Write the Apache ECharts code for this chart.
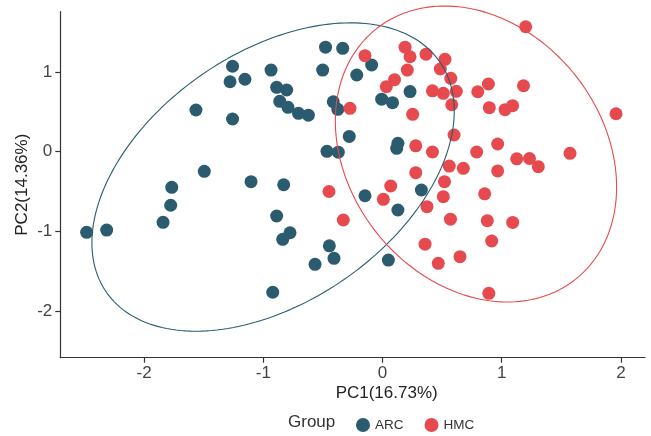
<!DOCTYPE html>
<html>
<head>
<meta charset="utf-8">
<script src="https://cdn.jsdelivr.net/npm/echarts@6/dist/echarts.min.js"></script>
<style>
html,body{margin:0;padding:0;background:#fff;}
#chart{width:651px;height:436px;}
</style>
</head>
<body>
<div id="chart"></div>
<script>
const groups = ['ARC', 'HMC'];
const arcX = [-2.482,-2.314,-1.841,-1.777,-1.768,-1.495,-1.103,-0.829,-1.565,-1.258,-1.258,-1.279,-1.154,-0.935,-0.888,-0.804,-0.862,-0.793,-0.705,-0.622,-0.502,-0.478,-0.334,-0.413,-0.375,-0.216,-0.091,-0.007,0.084,-0.279,-0.466,-0.371,0.129,0.119,0.231,-0.147,0.326,0.129,-0.888,-0.837,-0.776,-0.921,-0.566,-0.446,-0.407,0.049];
const arcY = [-1.013,-0.984,-0.887,-0.673,-0.447,-0.246,-0.377,-0.415,0.524,0.411,1.074,0.879,0.910,1.026,0.809,0.775,0.633,0.558,0.482,0.459,1.026,1.313,1.299,0.628,0.533,0.964,1.089,0.660,0.616,0.192,0.005,-0.006,0.106,0.043,0.756,-0.553,-0.481,-0.732,-0.808,-1.101,-1.018,-1.766,-1.415,-1.183,-1.339,-1.361];
const hmcX = [-0.147,0.189,0.231,0.365,0.524,0.485,0.208,0.573,0.101,0.032,0.419,0.510,0.619,0.581,-0.273,0.253,0.799,0.888,1.183,0.896,1.028,1.091,1.201,1.959,0.600,0.279,0.419,0.790,0.966,1.126,1.233,1.307,1.573,0.966,0.678,0.560,0.279,0.520,0.857,0.069,-0.449,0.007,0.510,0.373,-0.329,0.570,0.879,1.092,0.916,0.357,0.650,0.468,0.892];
const hmcY = [1.206,1.313,1.193,1.225,1.161,1.039,1.026,0.922,0.905,0.817,0.765,0.734,0.759,0.590,0.545,0.470,0.753,0.851,0.829,0.553,0.528,0.578,1.570,0.477,0.210,0.074,-0.004,-0.004,0.097,-0.089,-0.085,-0.188,-0.020,-0.242,-0.209,-0.180,-0.264,-0.377,-0.529,-0.431,-0.500,-0.598,-0.565,-0.691,-0.858,-0.848,-0.867,-0.889,-1.122,-1.162,-1.319,-1.402,-1.779];
// ellipse: center [x,y], shape [sxx, sxy, syy]
const arcEllipseCenter = [-0.918, -0.318];
const arcEllipseShape = [2.310, 1.257, 3.752];
const hmcEllipseCenter = [0.784, -0.029];
const hmcEllipseShape = [1.392, -0.49, 3.456];
const xTicks = [-2, -1, 0, 1, 2];
const yTicks = [-2, -1, 0, 1];
const colors = ['#2B5B6F', '#E64A4E'];

function zip(xs, ys) { return xs.map((x, i) => [x, ys[i]]); }
function ellipse(c, s) {
  const l11 = Math.sqrt(s[0]);
  const l21 = s[1] / l11;
  const l22 = Math.sqrt(s[2] - l21 * l21);
  const pts = [];
  const n = 200;
  for (let i = 0; i <= n; i++) {
    const t = 2 * Math.PI * i / n;
    pts.push([c[0] + l11 * Math.cos(t), c[1] + l21 * Math.cos(t) + l22 * Math.sin(t)]);
  }
  return pts;
}
const font = 'Liberation Sans, Arial, sans-serif';
const chart = echarts.init(document.getElementById('chart'), null, {renderer: 'canvas'});
chart.setOption({
  animation: false,
  backgroundColor: '#ffffff',
  color: colors,
  grid: {left: 60.3, right: 6, top: 11.7, bottom: 78.3, containLabel: false},
  title: {
    text: 'Group', left: 283, top: 409,
    textStyle: {fontFamily: font, fontSize: 17, fontWeight: 'normal', color: '#333'}
  },
  legend: {
    data: groups, left: 351, top: 413, icon: 'circle', itemWidth: 14, itemHeight: 14, itemGap: 21,
    textStyle: {fontFamily: font, fontSize: 13.5, color: '#333'}
  },
  xAxis: {
    type: 'value', min: -2.703, max: 2.202,
    name: 'PC1(16.73%)', nameLocation: 'middle', nameGap: 27, nameMoveOverlap: false,
    nameTextStyle: {fontFamily: font, fontSize: 17, color: '#222', padding: [0, 0, 0, 68]},
    axisLine: {show: true, onZero: false, lineStyle: {color: '#333', width: 1.2}},
    axisTick: {show: true, length: 5, customValues: xTicks, lineStyle: {color: '#333', width: 1.2}},
    axisLabel: {customValues: xTicks, margin: 7, fontFamily: font, fontSize: 17, color: '#444'},
    splitLine: {show: false}
  },
  yAxis: {
    type: 'value', min: -2.588, max: 1.759,
    name: 'PC2(14.36%)', nameLocation: 'middle', nameGap: 29, nameMoveOverlap: false,
    nameTextStyle: {fontFamily: font, fontSize: 17, color: '#222'},
    axisLine: {show: true, onZero: false, lineStyle: {color: '#333', width: 1.2}},
    axisTick: {show: true, length: 5, customValues: yTicks, lineStyle: {color: '#333', width: 1.2}},
    axisLabel: {customValues: yTicks, margin: 8, fontFamily: font, fontSize: 17, color: '#444'},
    splitLine: {show: false}
  },
  series: [
    {name: 'ARC', type: 'scatter', data: zip(arcX, arcY), symbolSize: 13, itemStyle: {color: colors[0], opacity: 1}, z: 2},
    {name: 'HMC', type: 'scatter', data: zip(hmcX, hmcY), symbolSize: 13, itemStyle: {color: colors[1], opacity: 1}, z: 2},
    {name: 'ARC', type: 'line', data: ellipse(arcEllipseCenter, arcEllipseShape), showSymbol: false, clip: false, smooth: false,
      lineStyle: {color: colors[0], width: 1.1}, z: 3, silent: true},
    {name: 'HMC', type: 'line', data: ellipse(hmcEllipseCenter, hmcEllipseShape), showSymbol: false, clip: false, smooth: false,
      lineStyle: {color: colors[1], width: 1.1}, z: 3, silent: true}
  ]
});
</script>
</body>
</html>
